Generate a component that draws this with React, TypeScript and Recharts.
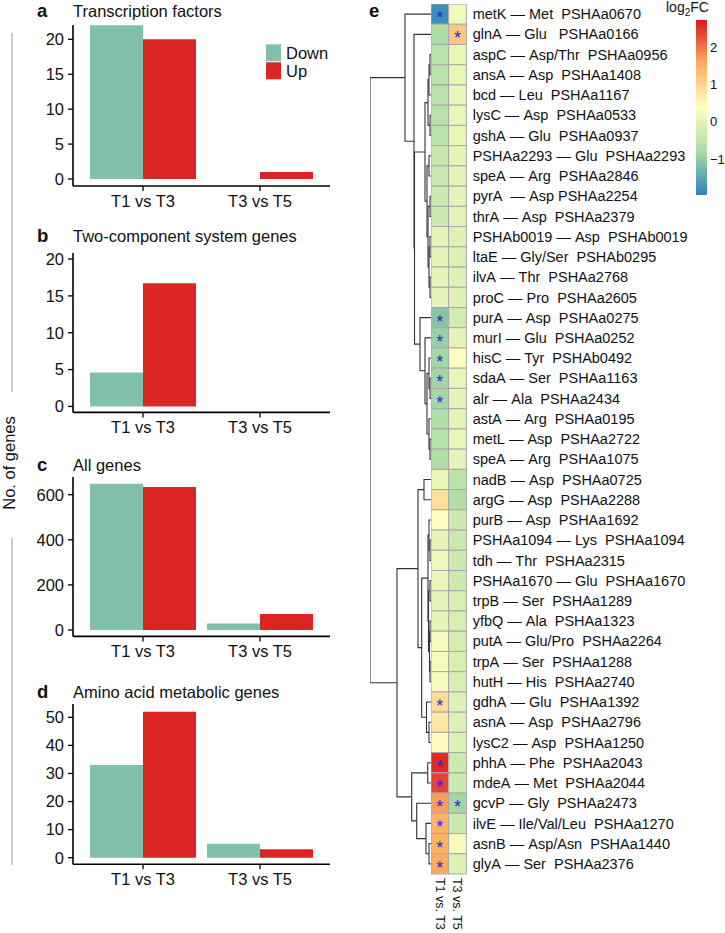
import React from "react";
import { Bar, BarChart, Scatter, ScatterChart, XAxis, YAxis } from "recharts";

const FONT = '"Liberation Sans", Arial, Helvetica, sans-serif';
const INK = "#111111";
const DOWN = "#82C1A9";
const UP = "#DB2522";
const RULE = "#9A9A9A";

// ---- panels a-d: counts of DE genes
const COMPARISONS = ["T1 vs T3", "T3 vs T5"];
const SERIES = ["Down", "Up"];

const TF_DOWN = [22, 0];
const TF_UP = [20, 1];
const TCS_DOWN = [4.6, 0];
const TCS_UP = [16.7, 0];
const ALL_DOWN = [649, 29];
const ALL_UP = [634, 71];
const AA_DOWN = [33, 5];
const AA_UP = [52, 3];

const TF_TICKS = [0, 5, 10, 15, 20];
const TCS_TICKS = [0, 5, 10, 15, 20];
const ALL_TICKS = [0, 200, 400, 600];
const AA_TICKS = [0, 10, 20, 30, 40, 50];

// ---- panel e: heatmap
const ROW_LABELS = [
  "metK — Met  PSHAa0670",
  "glnA — Glu   PSHAa0166",
  "aspC — Asp/Thr  PSHAa0956",
  "ansA — Asp  PSHAa1408",
  "bcd — Leu  PSHAa1167",
  "lysC — Asp  PSHAa0533",
  "gshA — Glu  PSHAa0937",
  "PSHAa2293 — Glu  PSHAa2293",
  "speA — Arg  PSHAa2846",
  "pyrA  — Asp PSHAa2254",
  "thrA — Asp  PSHAa2379",
  "PSHAb0019 — Asp  PSHAb0019",
  "ltaE — Gly/Ser  PSHAb0295",
  "ilvA — Thr  PSHAa2768",
  "proC — Pro  PSHAa2605",
  "purA — Asp  PSHAa0275",
  "murI — Glu  PSHAa0252",
  "hisC — Tyr  PSHAb0492",
  "sdaA — Ser  PSHAa1163",
  "alr — Ala  PSHAa2434",
  "astA — Arg  PSHAa0195",
  "metL — Asp  PSHAa2722",
  "speA — Arg  PSHAa1075",
  "nadB — Asp  PSHAa0725",
  "argG — Asp  PSHAa2288",
  "purB — Asp  PSHAa1692",
  "PSHAa1094 — Lys  PSHAa1094",
  "tdh — Thr  PSHAa2315",
  "PSHAa1670 — Glu  PSHAa1670",
  "trpB — Ser  PSHAa1289",
  "yfbQ — Ala  PSHAa1323",
  "putA — Glu/Pro  PSHAa2264",
  "trpA — Ser  PSHAa1288",
  "hutH — His  PSHAa2740",
  "gdhA — Glu  PSHAa1392",
  "asnA — Asp  PSHAa2796",
  "lysC2 — Asp  PSHAa1250",
  "phhA — Phe  PSHAa2043",
  "mdeA — Met  PSHAa2044",
  "gcvP — Gly  PSHAa2473",
  "ilvE — Ile/Val/Leu  PSHAa1270",
  "asnB — Asp/Asn  PSHAa1440",
  "glyA — Ser  PSHAa2376",
];

const HEAT_COLS = ["T1 vs. T3", "T3 vs. T5"];

const FC_T1_T3 = [
  -1.8, -0.75, -0.6, -0.6, -0.6, -0.6, -0.6, -0.4, -0.35, -0.3, -0.3, 0.0, 0.0, 0.05, 0.05,
  -1.1, -0.95, -0.85, -0.85, -0.85, -0.7, -0.65, -0.7, 0.1, 0.85, 0.4, 0.05, 0.15, 0.1, 0.05,
  0.05, 0.3, 0.25, 0.25, 0.9, 0.75, 0.45, 2.6, 2.4, 1.7, 1.5, 1.5, 1.6,
];
const FC_T3_T5 = [
  0.2, 1.2, 0.1, 0.1, 0.1, 0.1, 0.1, 0.05, 0.0, 0.0, 0.0, -0.05, -0.1, -0.05, -0.05,
  -0.25, 0.05, 0.4, 0.1, 0.05, 0.05, 0.1, 0.05, -0.55, -0.7, -0.3, -0.35, -0.3, -0.3, -0.15,
  -0.15, -0.2, -0.15, -0.15, -0.05, -0.1, -0.1, -0.3, -0.3, -0.85, -0.35, 0.3, -0.1,
];
const SIG_T1_T3 = [0, 15, 16, 17, 18, 19, 34, 37, 38, 39, 40, 41, 42];
const SIG_T3_T5 = [1, 39];

const SCALE_COLORS = ["#2B83BA", "#ABDDA4", "#FFFFBF", "#FDAE61", "#D7191C"];
const SCALE_RANGE = [-1.95, 2.74];
const SCALE_TICKS = [2, 1, 0, -1];

// row clustering: [merge height, left, right]; leaves are row indices
type Node = number | [number, Node, Node];
const CLUSTER_A: Node = [26, 0, [17, 1, [16.5,
  [6, [3, [2, [1, 2, 3], 4], [1, 5, 6]], [4, [2, 7, 8], [3, [1, 9, 10], [2, [1, 11, 12], [1, 13, 14]]]]],
  [11, 15, [6, 16, [4, [2, 17, [1, 18, 19]], [2, 20, [1, 21, 22]]]]],
]]];
const CLUSTER_D: Node = [34,
  [13, [7, 23, 24], [9.3,
    [3, [2, 25, [1, 26, 27]], [2.5, [1, 28, 29], [1.5, [1, 30, 31], [1, 32, 33]]]],
    [4.5, 34, [2, 35, 36]]]],
  [19.3, [3.3, 37, 38], [14.3, 39, [5, 40, [2, 41, 42]]]],
];
const TREE: Node = [61, CLUSTER_A, CLUSTER_D];

// layout
const HEAT_LEFT = 431;
const HEAT_TOP = 4;
const HEAT_W = 35.3;
const HEAT_H = 870;
const CELL_W = HEAT_W / HEAT_COLS.length;
const CELL_H = HEAT_H / ROW_LABELS.length;
const TREE_LEFT = 370;
const PAD_TOP = 12;

function hexToRgb(h: string) {
  const n = parseInt(h.slice(1), 16);
  return [(n >> 16) & 255, (n >> 8) & 255, n & 255];
}

function heatColor(v: number) {
  const [lo, hi] = SCALE_RANGE;
  const t = Math.min(1, Math.max(0, (v - lo) / (hi - lo))) * (SCALE_COLORS.length - 1);
  const i = Math.min(SCALE_COLORS.length - 2, Math.floor(t));
  const f = t - i;
  const a = hexToRgb(SCALE_COLORS[i]);
  const b = hexToRgb(SCALE_COLORS[i + 1]);
  const c = a.map((x, k) => Math.round(x + (b[k] - x) * f));
  return `rgb(${c[0]},${c[1]},${c[2]})`;
}

function treeSegments(node: Node, out: { h: number; r: number }[][]): { h: number; r: number } {
  if (typeof node === "number") return { h: 0, r: node + 0.5 };
  const [h, l, r] = node;
  const a = treeSegments(l, out);
  const b = treeSegments(r, out);
  out.push([
    { h: a.h, r: a.r },
    { h, r: a.r },
    { h, r: b.r },
    { h: b.h, r: b.r },
  ]);
  return { h, r: (a.r + b.r) / 2 };
}

const axisLine = { stroke: "#000", strokeWidth: 1.6 };
const tickLine = { stroke: "#000", strokeWidth: 1.3 };
const tickText = { fill: INK, fontSize: 16.5, fontFamily: FONT };

const PANELS = [
  { letter: "a", title: "Transcription factors", down: TF_DOWN, up: TF_UP, ticks: TF_TICKS, domain: [-1.0, 22.05], top: 25, h: 161, base: 16.8 },
  { letter: "b", title: "Two-component system genes", down: TCS_DOWN, up: TCS_UP, ticks: TCS_TICKS, domain: [-0.81, 20.82], top: 253.3, h: 159.4, base: 241.5 },
  { letter: "c", title: "All genes", down: ALL_DOWN, up: ALL_UP, ticks: ALL_TICKS, domain: [-28.4, 678.5], top: 477.3, h: 159.4, base: 470.7 },
  { letter: "d", title: "Amino acid metabolic genes", down: AA_DOWN, up: AA_UP, ticks: AA_TICKS, domain: [-2.35, 54.74], top: 704, h: 160.3, base: 698 },
];

function CountPanel({ p }: { p: (typeof PANELS)[number] }) {
  const data = COMPARISONS.map((c, i) => ({ c, Down: p.down[i], Up: p.up[i] }));
  return (
    <div style={{ position: "absolute", left: 0, top: p.top - PAD_TOP }}>
      <BarChart
        width={340}
        height={p.h + 30 + PAD_TOP}
        data={data}
        margin={{ top: PAD_TOP, right: 10, bottom: 0, left: 0 }}
        barCategoryGap={5.5}
        barGap={0}
      >
        <XAxis
          dataKey="c"
          padding={{ left: 11.5, right: 11.5 }}
          height={30}
          axisLine={axisLine}
          tickLine={tickLine}
          tickSize={5}
          tickMargin={4}
          tick={tickText}
          interval={0}
        />
        <YAxis
          type="number"
          domain={p.domain}
          ticks={p.ticks}
          allowDataOverflow
          width={73}
          axisLine={axisLine}
          tickLine={tickLine}
          tickSize={5}
          tickMargin={4}
          tick={tickText}
          interval={0}
        />
        <Bar dataKey="Down" fill={DOWN} isAnimationActive={false} />
        <Bar dataKey="Up" fill={UP} isAnimationActive={false} />
      </BarChart>
    </div>
  );
}

function HeatCell(props: any) {
  const { cx, cy, payload } = props;
  return (
    <g>
      <rect
        x={cx - CELL_W / 2}
        y={cy - CELL_H / 2}
        width={CELL_W}
        height={CELL_H}
        fill={heatColor(payload.v)}
        stroke="#A8A8A8"
        strokeWidth={1}
      />
      {payload.sig && (
        <text x={cx} y={cy + 10} textAnchor="middle" fontSize={18} fill="#2626E6" fontFamily={FONT}>
          *
        </text>
      )}
    </g>
  );
}

function ColTick(props: any) {
  const { x, y, payload } = props;
  return (
    <text
      transform={`translate(${x},${y - 4}) rotate(90)`}
      dominantBaseline="central"
      fontSize={12.5}
      fill={INK}
      fontFamily={FONT}
    >
      {HEAT_COLS[Math.floor(payload.value)]}
    </text>
  );
}

function NoDot() {
  return <g />;
}

function Heatmap() {
  const cells = ROW_LABELS.flatMap((_, i) => [
    { c: 0.5, r: i + 0.5, v: FC_T1_T3[i], sig: SIG_T1_T3.includes(i) },
    { c: 1.5, r: i + 0.5, v: FC_T3_T5[i], sig: SIG_T3_T5.includes(i) },
  ]);
  const segs: { h: number; r: number }[][] = [];
  treeSegments(TREE, segs);
  const rowTicks = ROW_LABELS.map((_, i) => i + 0.5);
  const treeH = (TREE as [number, Node, Node])[0];

  return (
    <>
      <div style={{ position: "absolute", left: TREE_LEFT, top: HEAT_TOP }}>
        <ScatterChart width={HEAT_LEFT - TREE_LEFT} height={HEAT_H} margin={{ top: 0, right: 0, bottom: 0, left: 0 }}>
          <XAxis type="number" dataKey="h" domain={[0, treeH]} reversed hide />
          <YAxis type="number" dataKey="r" domain={[0, ROW_LABELS.length]} reversed hide />
          {segs.map((s, i) => (
            <Scatter
              key={i}
              data={s}
              line={{ stroke: "#333", strokeWidth: 1.1 }}
              lineType="joint"
              shape={NoDot}
              isAnimationActive={false}
            />
          ))}
        </ScatterChart>
      </div>
      <div style={{ position: "absolute", left: HEAT_LEFT, top: HEAT_TOP }}>
        <ScatterChart width={HEAT_W + 250} height={HEAT_H + 60} margin={{ top: 0, right: 0, bottom: 0, left: 0 }}>
          <XAxis
            type="number"
            dataKey="c"
            domain={[0, HEAT_COLS.length]}
            ticks={[0.5, 1.5]}
            height={60}
            axisLine={false}
            tickLine={false}
            interval={0}
            tick={<ColTick />}
          />
          <YAxis
            type="number"
            dataKey="r"
            orientation="right"
            domain={[0, ROW_LABELS.length]}
            reversed
            ticks={rowTicks}
            interval={0}
            width={250}
            axisLine={false}
            tickLine={false}
            tickSize={4}
            tickMargin={2.4}
            tick={{ fill: INK, fontSize: 14.5, fontFamily: FONT }}
            tickFormatter={(v: number) => ROW_LABELS[Math.floor(v)].replace(/ /g, "\u00A0")}
          />
          <Scatter data={cells} shape={HeatCell} isAnimationActive={false} />
        </ScatterChart>
      </div>
    </>
  );
}

function ColorBar() {
  const top = 20;
  const h = 175;
  const [lo, hi] = SCALE_RANGE;
  const stops = SCALE_COLORS.map((c, i) => `${c} ${(i / (SCALE_COLORS.length - 1)) * 100}%`).join(", ");
  return (
    <>
      <div
        style={{
          position: "absolute",
          left: 695.7,
          top,
          width: 11.6,
          height: h,
          background: `linear-gradient(to top, ${stops})`,
        }}
      />
      {SCALE_TICKS.map((t) => (
        <div
          key={t}
          style={{
            position: "absolute",
            left: 710,
            top: top + ((hi - t) / (hi - lo)) * h - 8,
            fontSize: 13,
            lineHeight: "16px",
            color: INK,
            fontFamily: FONT,
          }}
        >
          {t < 0 ? `\u2212${Math.abs(t)}` : t}
        </div>
      ))}
    </>
  );
}

export default function App() {
  return (
    <div
      style={{
        position: "absolute",
        left: 0,
        top: 0,
        width: 725,
        height: 933,
        overflow: "hidden",
        background: "#fff",
        fontFamily: FONT,
      }}
    >
      {PANELS.map((p) => (
        <CountPanel key={p.letter} p={p} />
      ))}
      <Heatmap />
      <ColorBar />
      <svg
        width={725}
        height={933}
        style={{ position: "absolute", left: 0, top: 0, pointerEvents: "none" }}
        fontFamily={FONT}
      >
        {PANELS.map((p) => (
          <g key={p.letter}>
            <text x={37} y={p.base} fontSize={18.5} fontWeight="bold" fill={INK}>
              {p.letter}
            </text>
            <text x={73} y={p.base + (p.letter === "a" ? 0.5 : 0)} fontSize={16.5} fill={INK}>
              {p.title}
            </text>
          </g>
        ))}
        <text x={369} y={16.8} fontSize={18.5} fontWeight="bold" fill={INK}>
          e
        </text>
        <line x1={12} y1={33} x2={12} y2={392} stroke={RULE} strokeWidth={1} />
        <line x1={12} y1={538} x2={12} y2={865} stroke={RULE} strokeWidth={1} />
        <text x={15} y={463} fontSize={16.5} fill={INK} textAnchor="middle" transform="rotate(-90, 15, 463)">
          No. of genes
        </text>
        {SERIES.map((s, i) => (
          <g key={s}>
            <rect x={266} y={44.3 + i * 18} width={15} height={17} fill={i === 0 ? DOWN : UP} />
            <text x={286} y={53 + i * 18} dy="0.35em" fontSize={16.5} fill={INK}>
              {s}
            </text>
          </g>
        ))}
        <text x={666} y={12} fontSize={14} fill={INK}>
          log
          <tspan fontSize={10} dy={4}>
            2
          </tspan>
          <tspan dy={-4}>FC</tspan>
        </text>
      </svg>
    </div>
  );
}
